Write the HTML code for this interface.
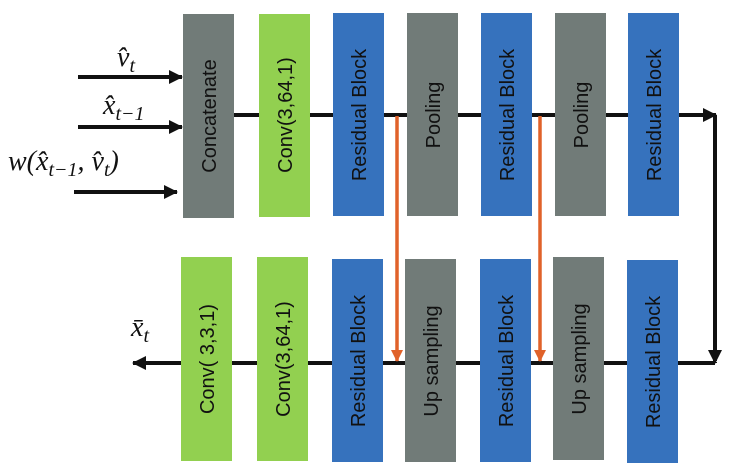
<!DOCTYPE html>
<html><head><meta charset="utf-8"><style>
html,body{margin:0;padding:0;background:#fff;}
svg{display:block;}
.t{font-family:"Liberation Sans",sans-serif;font-size:20px;fill:#111;}
.m{font-family:"Liberation Serif",serif;font-style:italic;fill:#111;}
</style></head><body>
<svg width="731" height="470" viewBox="0 0 731 470" xmlns="http://www.w3.org/2000/svg">
<defs>
<marker id="ab" markerWidth="10" markerHeight="10" refX="9" refY="5" orient="auto" markerUnits="userSpaceOnUse"><path d="M0,0 L10,5 L0,10 Z" fill="#111"/></marker>
<marker id="ab2" markerWidth="14" markerHeight="14" refX="13" refY="7" orient="auto" markerUnits="userSpaceOnUse"><path d="M0,0 L14,7 L0,14 Z" fill="#111"/></marker>
<marker id="ao" markerWidth="12" markerHeight="12" refX="11" refY="6" orient="auto" markerUnits="userSpaceOnUse"><path d="M0,0 L12,6 L0,12 Z" fill="#e0622a"/></marker>
</defs>
<!-- lines -->
<g stroke="#111" stroke-width="4" fill="none">
<line x1="78" y1="77" x2="182" y2="77" marker-end="url(#ab2)"/>
<line x1="78" y1="127" x2="182" y2="127" marker-end="url(#ab2)"/>
<line x1="74" y1="192" x2="177" y2="192" marker-end="url(#ab2)"/>
<line x1="234" y1="115" x2="716" y2="115" marker-end="url(#ab2)"/>
<polyline points="715,115 715,361"/>
<line x1="715" y1="362" x2="715" y2="363" marker-end="url(#ab2)"/>
<line x1="715" y1="363" x2="133" y2="363" marker-end="url(#ab2)"/>
</g>
<g stroke="#e0622a" stroke-width="3.5">
<line x1="397" y1="116" x2="397" y2="361" marker-end="url(#ao)"/>
<line x1="540" y1="116" x2="540" y2="361" marker-end="url(#ao)"/>
</g>
<!-- boxes top -->
<rect x="183" y="14" width="51" height="204" fill="#717b78"/>
<rect x="259" y="14" width="51" height="203" fill="#92d050"/>
<rect x="333" y="13" width="51" height="203" fill="#3672bd"/>
<rect x="407" y="13" width="51" height="203" fill="#717b78"/>
<rect x="481" y="13" width="51" height="203" fill="#3672bd"/>
<rect x="555" y="13" width="51" height="203" fill="#717b78"/>
<rect x="628" y="13" width="51" height="203" fill="#3672bd"/>
<!-- boxes bottom -->
<rect x="181" y="257" width="51" height="204" fill="#92d050"/>
<rect x="257" y="257" width="51" height="204" fill="#92d050"/>
<rect x="332" y="259" width="51" height="203" fill="#3672bd"/>
<rect x="405" y="259" width="51" height="203" fill="#717b78"/>
<rect x="480" y="259" width="51" height="203" fill="#3672bd"/>
<rect x="553" y="257" width="51" height="203" fill="#717b78"/>
<rect x="627" y="260" width="51" height="203" fill="#3672bd"/>
<!-- labels -->
<g class="t" text-anchor="middle">
<text transform="translate(216,116) rotate(-90)">Concatenate</text>
<text transform="translate(292,115) rotate(-90)">Conv(3,64,1)</text>
<text transform="translate(366,115) rotate(-90)">Residual Block</text>
<text transform="translate(440,115) rotate(-90)">Pooling</text>
<text transform="translate(514,115) rotate(-90)">Residual Block</text>
<text transform="translate(588,115) rotate(-90)">Pooling</text>
<text transform="translate(661,115) rotate(-90)">Residual Block</text>
<text transform="translate(214,359) rotate(-90)">Conv( 3,3,1)</text>
<text transform="translate(290,359) rotate(-90)">Conv(3,64,1)</text>
<text transform="translate(365,361) rotate(-90)">Residual Block</text>
<text transform="translate(438,361) rotate(-90)">Up sampling</text>
<text transform="translate(513,361) rotate(-90)">Residual Block</text>
<text transform="translate(586,359) rotate(-90)">Up sampling</text>
<text transform="translate(660,362) rotate(-90)">Residual Block</text>
</g>
<g class="m">
<text x="117" y="66" font-size="28">v̂<tspan font-size="20" dy="6">t</tspan></text>
<text x="103" y="114" font-size="28">x̂<tspan font-size="20" dy="6">t−1</tspan></text>
<text x="8" y="170" font-size="28">w(x̂<tspan font-size="20" dy="6">t−1</tspan><tspan dy="-6">, v̂</tspan><tspan font-size="20" dy="6">t</tspan><tspan dy="-6">)</tspan></text>
<text x="131" y="336" font-size="28">x̄<tspan font-size="20" dy="6">t</tspan></text>
</g>
</svg>
</body></html>
